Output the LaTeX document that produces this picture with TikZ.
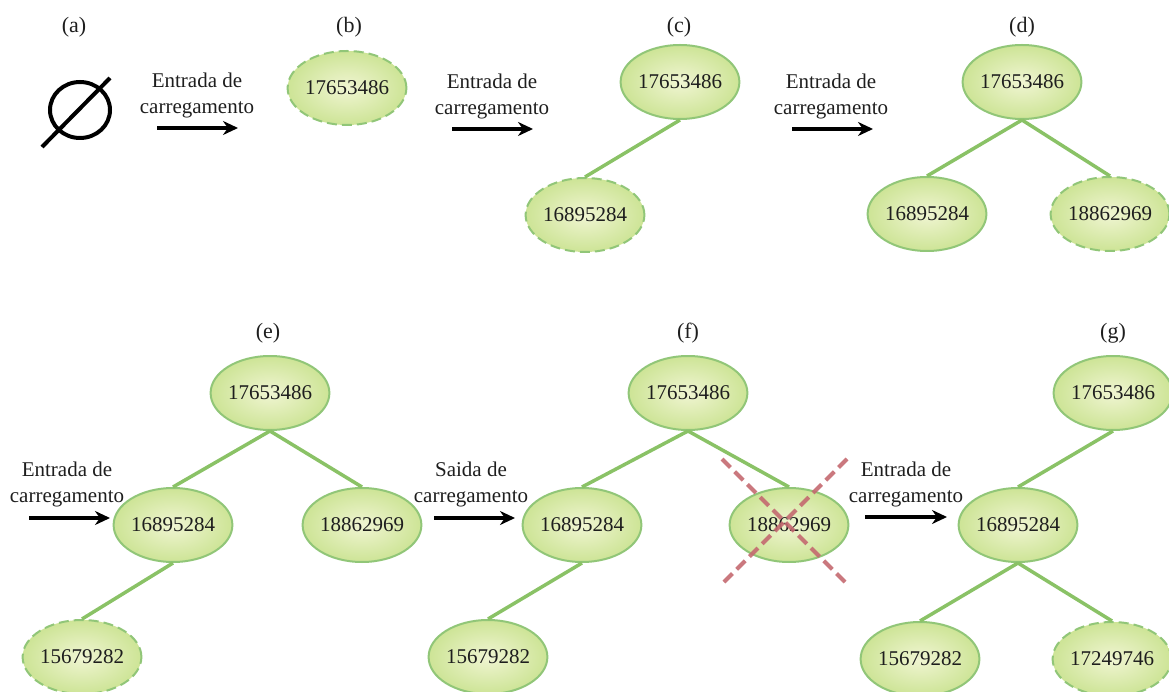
\documentclass[tikz,border=0pt]{standalone}
\usepackage{fontspec}
\setmainfont{Liberation Serif}
\usetikzlibrary{arrows.meta,shapes.geometric}

\definecolor{nodefillin}{RGB}{240,245,210}
\definecolor{nodefillout}{RGB}{205,228,150}
\definecolor{nodeborder}{RGB}{145,198,120}
\definecolor{edgegreen}{RGB}{138,194,102}
\definecolor{crossred}{RGB}{196,105,112}
\definecolor{inktext}{RGB}{30,30,30}

\tikzset{
  keynode/.style={ellipse, minimum width=115pt, minimum height=74pt, inner sep=0pt,
    draw=nodeborder, line width=2pt, inner color=nodefillin, outer color=nodefillout,
    text=inktext, font=\fontsize{21}{24}\selectfont},
  newkey/.style={keynode, dash pattern=on 10pt off 5pt},
  treeedge/.style={draw=edgegreen, line width=3.5pt},
  steplabel/.style={font=\fontsize{22}{24}\selectfont, text=inktext, inner sep=0pt},
  opnote/.style={align=center, font=\fontsize{21}{26}\selectfont, text=inktext, inner sep=0pt},
  oparrow/.style={-{Stealth[length=15pt,width=14pt]}, line width=4pt, black},
  crossline/.style={draw=crossred, line width=4pt, dash pattern=on 12pt off 6pt, opacity=0.9},
}

\begin{document}
\begin{tikzpicture}[x=1pt, y=-1pt]
\useasboundingbox (0,0) rectangle (1169,692);

% step labels
\node[steplabel] (la) at (74,27)   {(a)};
\node[steplabel] (lb) at (349,27)  {(b)};
\node[steplabel] (lc) at (679,27)  {(c)};
\node[steplabel] (ld) at (1022,27) {(d)};
\node[steplabel] (le) at (268,333) {(e)};
\node[steplabel] (lf) at (688,333) {(f)};
\node[steplabel] (lg) at (1113,333) {(g)};

% (a) empty tree
\coordinate (esc) at (80,110);
\coordinate (esa) at (42,147);
\coordinate (esb) at (110,78);
\draw[line width=4pt, black] (esc) ellipse [x radius=30, y radius=28];
\draw[line width=4pt, black] (esa) -- (esb);

% (b)
\node[newkey] (b1) at (347,88) {17653486};

% (c)
\node[keynode] (c1) at (680,82)  {17653486};
\node[newkey]  (c2) at (585,215) {16895284};
\draw[treeedge] (c1.south) -- (c2.north);

% (d)
\node[keynode] (d1) at (1022,82)  {17653486};
\node[keynode] (d2) at (927,214)  {16895284};
\node[newkey]  (d3) at (1110,214) {18862969};
\draw[treeedge] (d1.south) -- (d2.north);
\draw[treeedge] (d1.south) -- (d3.north);

% (e)
\node[keynode] (e1) at (270,393) {17653486};
\node[keynode] (e2) at (173,525) {16895284};
\node[keynode] (e3) at (362,525) {18862969};
\node[newkey]  (e4) at (82,657)  {15679282};
\draw[treeedge] (e1.south) -- (e2.north);
\draw[treeedge] (e1.south) -- (e3.north);
\draw[treeedge] (e2.south) -- (e4.north);

% (f)
\node[keynode] (f1) at (688,393) {17653486};
\node[keynode] (f2) at (582,525) {16895284};
\node[keynode] (f3) at (789,525) {18862969};
\node[keynode] (f4) at (488,657) {15679282};
\draw[treeedge] (f1.south) -- (f2.north);
\draw[treeedge] (f1.south) -- (f3.north);
\draw[treeedge] (f2.south) -- (f4.north);
\coordinate (xa) at (722,459);
\coordinate (xb) at (847,584);
\coordinate (xc) at (847,459);
\coordinate (xd) at (722,584);
\draw[crossline] (xa) -- (xb);
\draw[crossline] (xc) -- (xd);

% (g)
\node[keynode] (g1) at (1113,393) {17653486};
\node[keynode] (g2) at (1018,525) {16895284};
\node[keynode] (g3) at (920,659)  {15679282};
\node[newkey]  (g4) at (1112,659) {17249746};
\draw[treeedge] (g1.south) -- (g2.north);
\draw[treeedge] (g2.south) -- (g3.north);
\draw[treeedge] (g2.south) -- (g4.north);

% operations between steps
\node[opnote] (op1) at (197,95)  {Entrada de\\carregamento};
\coordinate (op1s) at (157,128); \coordinate (op1e) at (238,128);
\draw[oparrow] (op1s) -- (op1e);

\node[opnote] (op2) at (492,96)  {Entrada de\\carregamento};
\coordinate (op2s) at (452,129); \coordinate (op2e) at (533,129);
\draw[oparrow] (op2s) -- (op2e);

\node[opnote] (op3) at (831,96)  {Entrada de\\carregamento};
\coordinate (op3s) at (792,129); \coordinate (op3e) at (873,129);
\draw[oparrow] (op3s) -- (op3e);

\node[opnote] (op4) at (67,484)  {Entrada de\\carregamento};
\coordinate (op4s) at (29,518); \coordinate (op4e) at (110,518);
\draw[oparrow] (op4s) -- (op4e);

\node[opnote] (op5) at (471,484) {Saida de\\carregamento};
\coordinate (op5s) at (434,518); \coordinate (op5e) at (515,518);
\draw[oparrow] (op5s) -- (op5e);

\node[opnote] (op6) at (906,484) {Entrada de\\carregamento};
\coordinate (op6s) at (865,517); \coordinate (op6e) at (947,517);
\draw[oparrow] (op6s) -- (op6e);
\end{tikzpicture}
\end{document}
